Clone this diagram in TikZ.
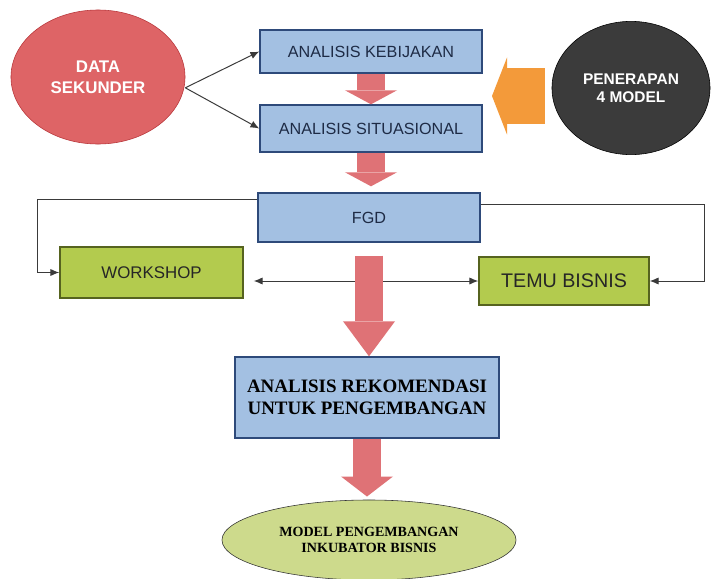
\documentclass[tikz,border=0pt]{standalone}
\usepackage{xcolor}
\usepackage{fontspec}
\setmainfont{Liberation Sans}
\newfontfamily\rekomfont{Liberation Serif}
\usetikzlibrary{shapes.geometric,arrows.meta,calc}
\definecolor{BoxBlue}{HTML}{A3C0E2}
\definecolor{BoxBlueLine}{HTML}{2E4A7A}
\definecolor{BoxGreen}{HTML}{B3CB4E}
\definecolor{BoxGreenLine}{HTML}{56631F}
\definecolor{DataRed}{HTML}{DE6466}
\definecolor{DataRedLine}{HTML}{B8363A}
\definecolor{ModelDark}{HTML}{3B3B3B}
\definecolor{FlowRed}{HTML}{DF7276}
\definecolor{FlowOrange}{HTML}{F39A3A}
\definecolor{EndGreen}{HTML}{CDDA8C}
\definecolor{LinkGray}{HTML}{3A3A3A}
\definecolor{TextNavy}{HTML}{1E2B45}

\begin{document}
\begin{tikzpicture}[x=0.025cm,y=-0.025cm,
  bluebox/.style={draw=BoxBlueLine,fill=BoxBlue,line width=1pt,minimum width=5.55cm,inner sep=0pt,text=TextNavy,font=\fontsize{11.5}{13}\selectfont},
  greenbox/.style={draw=BoxGreenLine,fill=BoxGreen,line width=1pt,inner sep=0pt,text=black!85},
  oval/.style={ellipse,inner sep=0pt,align=center,font=\bfseries\fontsize{11}{13}\selectfont},
  link/.style={draw=LinkGray,line width=0.7pt,-{Latex[length=2.2mm,width=1.8mm]}},
  flowarrow/.style={FlowRed,line width=0.675cm,-{Triangle[length=#1,width=1.3cm,line width=0pt]}}]
\fill[white] (0,0) rectangle (712,579);
\useasboundingbox (0,0) rectangle (712,579);
\node[bluebox,minimum height=1.075cm] (kebij) at (371,51.5) {ANALISIS KEBIJAKAN};
\node[bluebox,minimum height=1.175cm] (situ) at (371,128.5) {ANALISIS SITUASIONAL};
\node[bluebox,minimum height=1.225cm] (fgd) at (369,217.5) {FGD};
\node[greenbox,minimum width=4.575cm,minimum height=1.275cm,font=\fontsize{12}{14}\selectfont] (work) at (151.5,272.5) {WORKSHOP};
\node[greenbox,minimum width=4.25cm,minimum height=1.2cm,font=\fontsize{14}{16}\selectfont] (temu) at (564,281) {TEMU BISNIS};
\node[bluebox,minimum width=6.6cm,minimum height=2.025cm,align=center,text=black,font=\rekomfont\bfseries\fontsize{13.5}{16}\selectfont] (rekom) at (367,397.5) {ANALISIS REKOMENDASI\\UNTUK PENGEMBANGAN};
\node[oval,draw=black!80,fill=EndGreen,minimum width=7.35cm,minimum height=2cm,font=\rekomfont\bfseries\fontsize{10}{11.5}\selectfont] (model) at (369,540) {MODEL PENGEMBANGAN\\INKUBATOR BISNIS};
\node[oval,draw=DataRedLine,fill=DataRed,text=white,minimum width=4.35cm,minimum height=3.35cm,font=\bfseries\fontsize{12}{15}\selectfont] (dsek) at (98,77) {DATA\\SEKUNDER};
\node[oval,draw=black,fill=ModelDark,text=white,minimum width=3.95cm,minimum height=3.33cm] (pener) at (631,88) {PENERAPAN\\4 MODEL};
\coordinate (oarr) at (492,96);
\draw[link] ([yshift=-0.27cm]dsek.east) -- (kebij.west);
\draw[link] ([yshift=-0.27cm]dsek.east) -- (situ.west);
\draw[link] ([yshift=-0.18cm]fgd.north west) -- ++(-220,0) |- (work.west);
\draw[link] ([yshift=-0.3cm]fgd.north east) -- ++(224,0) |- (temu.east);
\draw[link,{Latex[length=2.2mm,width=1.8mm]}-{Latex[length=2.2mm,width=1.8mm]}] ([xshift=0.25cm]work.east |- temu.west) -- (temu.west);
\draw[flowarrow=0.35cm] (kebij.south) -- (kebij.south |- situ.north);
\draw[flowarrow=0.35cm] (situ.south) -- ([yshift=0.15cm]situ.south |- fgd.north);
\draw[flowarrow=0.875cm] ([yshift=-0.32cm]fgd.south) -- (fgd.south |- rekom.north);
\draw[flowarrow=0.5cm] (rekom.south) -- ([yshift=0.08cm]rekom.south |- model.north);
\draw[FlowOrange,line width=1.4cm,-{Triangle[length=0.375cm,width=1.925cm,line width=0pt]}] ([xshift=-0.18cm]pener.west |- oarr) -- (oarr);
\end{tikzpicture}
\end{document}
